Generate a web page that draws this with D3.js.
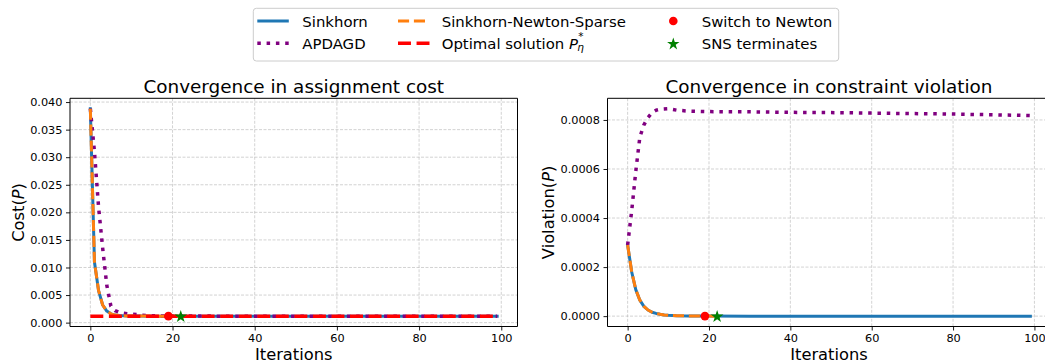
<!DOCTYPE html>
<html><head><meta charset="utf-8">
<script src="https://cdn.jsdelivr.net/npm/d3@7"></script>
<style>
body{margin:0;background:#fff}
svg{display:block}
text{font-family:"DejaVu Sans",sans-serif;fill:#000}
</style>
</head><body>
<svg id="c" width="1045" height="364"></svg>
<script>
// ---------------- data ----------------
const xTicks = [0, 20, 40, 60, 80, 100];
const costTicks = [0, 0.005, 0.010, 0.015, 0.020, 0.025, 0.030, 0.035, 0.040];
const vioTicks = [0, 0.0002, 0.0004, 0.0006, 0.0008];

// assignment cost
const sinkCostIter = [0,1,2,3,4,5,6,7,8,9,10,12,15,20,30,40,50,60,70,80,90,99];
const sinkCost     = [0.0388,0.0110,0.0058,0.0032,0.0021,0.0016,0.00137,0.00128,0.00123,0.00121,0.00120,0.00119,0.00118,0.00118,0.00118,0.00118,0.00118,0.00118,0.00118,0.00118,0.00118,0.00118];
const apdCostIter  = [0,1,2,3,4,5,6,7,8,9,10,12,14,16,20,30,40,50,60,70,80,90,99];
const apdCost      = [0.0388,0.0310,0.0210,0.0135,0.0068,0.0030,0.0022,0.0019,0.0017,0.0016,0.00155,0.0014,0.00128,0.00122,0.00119,0.00118,0.00118,0.00118,0.00118,0.00118,0.00118,0.00118,0.00118];
const snsCostIter  = [0,1,2,3,4,5,6,7,8,9,10,12,15,19,20,21,22];
const snsCost      = [0.0388,0.0110,0.0058,0.0032,0.0021,0.0016,0.00137,0.00128,0.00123,0.00121,0.00120,0.00119,0.00118,0.00118,0.00118,0.00118,0.00118];
const optCostIter  = [0, 99];
const optCost      = [0.00118, 0.00118];

// constraint violation
const sinkVioIter = [0,1,2,3,4,5,6,7,8,9,10,12,15,20,30,40,50,60,70,80,90,99];
const sinkVio     = [0.00029,0.00018,0.000108,0.000065,0.00004,0.000025,0.000016,0.000011,0.0000075,0.000005,0.0000035,0.0000018,0.0000007,0.0000002,0,0,0,0,0,0,0,0];
const apdVioIter  = [0,1,2,3,4,5,6,7,8,10,12,15,20,30,40,50,60,70,80,90,99];
const apdVio      = [0.00029,0.00043,0.00059,0.00073,0.00078,0.00081,0.00083,0.00084,0.000844,0.000846,0.00084,0.000836,0.000834,0.000833,0.000831,0.00083,0.000828,0.000826,0.000824,0.000821,0.000818];
const snsVioIter  = [0,1,2,3,4,5,6,7,8,9,10,12,15,19,20,21,22];
const snsVio      = [0.00029,0.00018,0.000108,0.000065,0.00004,0.000025,0.000016,0.000011,0.0000075,0.000005,0.0000035,0.0000018,0.0000007,0.0000003,0.0000001,0,0];

const switchIter = 19;
const termIter = 22;

const titles = ["Convergence in assignment cost", "Convergence in constraint violation"];
const yLabels = ["Cost", "Violation"];
const xLabel = "Iterations";
const legendLabels = ["Sinkhorn", "APDAGD", "Sinkhorn-Newton-Sparse", "Optimal solution", "Switch to Newton", "SNS terminates"];

// ---------------- styles ----------------
const C = {sink:"#1f77b4", apd:"#800080", sns:"#ff7f0e", opt:"#ff0000", sw:"#ff0000", term:"#008000"};
const ST = {
  sink:{c:C.sink, w:3, dash:null},
  apd:{c:C.apd, w:3.5, dash:"3.5,5.8"},
  sns:{c:C.sns, w:3, dash:"11.1,4.8"},
  opt:{c:C.opt, w:3.5, dash:"12.95,5.6"}
};

const svg = d3.select("#c");
const zip = (a, b) => a.map((v, i) => [v, b[i]]);

function panel(box, series, ticks, fmt, title, ylab, ylabX) {
  const all = series.flatMap(s => s.y);
  const [mn, mx] = d3.extent(all);
  const pad = (mx - mn) * 0.05;
  const x = d3.scaleLinear().domain([-4.95, 103.95]).range([box.x0, box.x1]);
  const y = d3.scaleLinear().domain([mn - pad, mx + pad]).range([box.y1, box.y0]);
  const g = svg.append("g");
  // grid
  const gg = g.append("g").attr("stroke", "#b0b0b0").attr("stroke-opacity", 0.7)
    .attr("stroke-width", 0.8).attr("stroke-dasharray", "3,1.5");
  xTicks.forEach(t => { const px = x(t); if (px <= 1045) gg.append("line").attr("x1", px).attr("x2", px).attr("y1", box.y0).attr("y2", box.y1); });
  ticks.forEach(t => gg.append("line").attr("x1", box.x0).attr("x2", box.x1).attr("y1", y(t)).attr("y2", y(t)));
  // lines
  const line = d3.line().x(d => x(d[0])).y(d => y(d[1]));
  series.forEach(s => {
    const st = ST[s.k];
    g.append("path").attr("d", line(zip(s.x, s.y))).attr("fill", "none")
      .attr("stroke", st.c).attr("stroke-width", st.w)
      .attr("stroke-dasharray", st.dash).attr("stroke-linejoin", "round")
      .attr("stroke-linecap", st.dash ? "butt" : "square");
  });
  // markers
  const sns = series.find(s => s.k === "sns");
  const yAt = it => sns.y[sns.x.indexOf(it)];
  g.append("circle").attr("cx", x(switchIter)).attr("cy", y(yAt(switchIter))).attr("r", 4.4).attr("fill", C.sw);
  g.append("path").attr("d", d3.symbol(d3.symbolStar, 50)())
    .attr("transform", `translate(${x(termIter)},${y(yAt(termIter)) + 0.5})`).attr("fill", C.term);
  // spines
  g.append("path").attr("d", `M${box.x0},${box.y0}H${box.x1}M${box.x0},${box.y0}V${box.y1}H${box.x1}` + (box.x1 < 1045 ? `V${box.y0}` : ""))
    .attr("fill", "none").attr("stroke", "#000").attr("stroke-width", 1);
  // axes
  const ax = g.append("g").attr("transform", `translate(0,${box.y1})`)
    .call(d3.axisBottom(x).tickValues(xTicks).tickSize(4).tickPadding(3.5).tickFormat(d3.format("d")));
  const ay = g.append("g").attr("transform", `translate(${box.x0},0)`)
    .call(d3.axisLeft(y).tickValues(ticks).tickSize(4).tickPadding(3.5).tickFormat(fmt));
  [ax, ay].forEach(a => {
    a.select(".domain").remove();
    a.selectAll("text").attr("font-size", 11.3).attr("font-family", "DejaVu Sans").attr("fill", "#000");
    a.selectAll("line").attr("stroke", "#000").attr("stroke-width", 0.9);
  });
  // titles
  const cx = (box.x0 + box.x1) / 2;
  g.append("text").attr("x", cx).attr("y", 93.3).attr("text-anchor", "middle").attr("font-size", 18.4).text(title);
  g.append("text").attr("x", cx).attr("y", 359.5).attr("text-anchor", "middle").attr("font-size", 16.3).text(xLabel);
  const cy = (box.y0 + box.y1) / 2;
  const yl = g.append("text").attr("transform", `translate(${ylabX},${cy}) rotate(-90)`)
    .attr("text-anchor", "middle").attr("font-size", 16.3);
  yl.append("tspan").text(ylab + "(");
  yl.append("tspan").attr("font-style", "italic").text("P");
  yl.append("tspan").text(")");
}

panel({x0:70, x1:517.5, y0:98.3, y1:326.5},
  [{k:"sink", x:sinkCostIter, y:sinkCost}, {k:"apd", x:apdCostIter, y:apdCost},
   {k:"sns", x:snsCostIter, y:snsCost}, {k:"opt", x:optCostIter, y:optCost}],
  costTicks, d3.format(".3f"), titles[0], yLabels[0], 24);

panel({x0:607.5, x1:1050.5, y0:98.3, y1:326.5},
  [{k:"sink", x:sinkVioIter, y:sinkVio}, {k:"apd", x:apdVioIter, y:apdVio},
   {k:"sns", x:snsVioIter, y:snsVio}],
  vioTicks, d3.format(".4f"), titles[1], yLabels[1], 553.5);

// ---------------- legend ----------------
const lg = svg.append("g");
const frame = lg.append("rect").attr("x", 253.3).attr("y", 8.3).attr("height", 52.7)
  .attr("rx", 3).attr("fill", "#fff").attr("fill-opacity", 0.8).attr("stroke", "#cccccc").attr("stroke-width", 1);
const rowsH = [21, 43.3], rowsT = [26.5, 48.7];
const fs = 14.9;
let maxEnd = 0;
function ltext(x, row, label) {
  const t = lg.append("text").attr("x", x).attr("y", rowsT[row]).attr("font-size", fs).text(label);
  maxEnd = Math.max(maxEnd, x + t.node().getComputedTextLength());
  return t;
}
function lhandle(x, row, k) {
  const st = ST[k];
  lg.append("line").attr("x1", x).attr("x2", x + 31.5).attr("y1", rowsH[row]).attr("y2", rowsH[row])
    .attr("stroke", st.c).attr("stroke-width", st.w).attr("stroke-dasharray", st.dash);
}
lhandle(257.3, 0, "sink"); ltext(302.3, 0, legendLabels[0]);
lhandle(257.3, 1, "apd");  ltext(302.3, 1, legendLabels[1]);
lhandle(398, 0, "sns");    ltext(441.7, 0, legendLabels[2]);
lhandle(398, 1, "opt");
const ot = ltext(441.7, 1, legendLabels[3]);
const px0 = 441.7 + ot.node().getComputedTextLength() + 0.318 * fs;
const pT = lg.append("text").attr("x", px0).attr("y", rowsT[1]).attr("font-size", fs).attr("font-style", "italic").text("P");
const pw = pT.node().getComputedTextLength();
lg.append("text").attr("x", px0 + pw + 0.3).attr("y", rowsT[1] - 8.3).attr("font-size", 10.5).text("*");
lg.append("text").attr("x", px0 + pw - 0.8).attr("y", rowsT[1] + 2.3).attr("font-size", 10.5).attr("font-style", "italic").text("η");
lg.append("circle").attr("cx", 673.3).attr("cy", rowsH[0]).attr("r", 4.3).attr("fill", C.sw);
ltext(701.7, 0, legendLabels[4]);
lg.append("path").attr("d", d3.symbol(d3.symbolStar, 48)()).attr("transform", `translate(673.3,${rowsH[1] + 0.8})`).attr("fill", C.term);
ltext(701.7, 1, legendLabels[5]);
frame.attr("width", maxEnd + 6.5 - 253.3);
</script>
</body></html>
